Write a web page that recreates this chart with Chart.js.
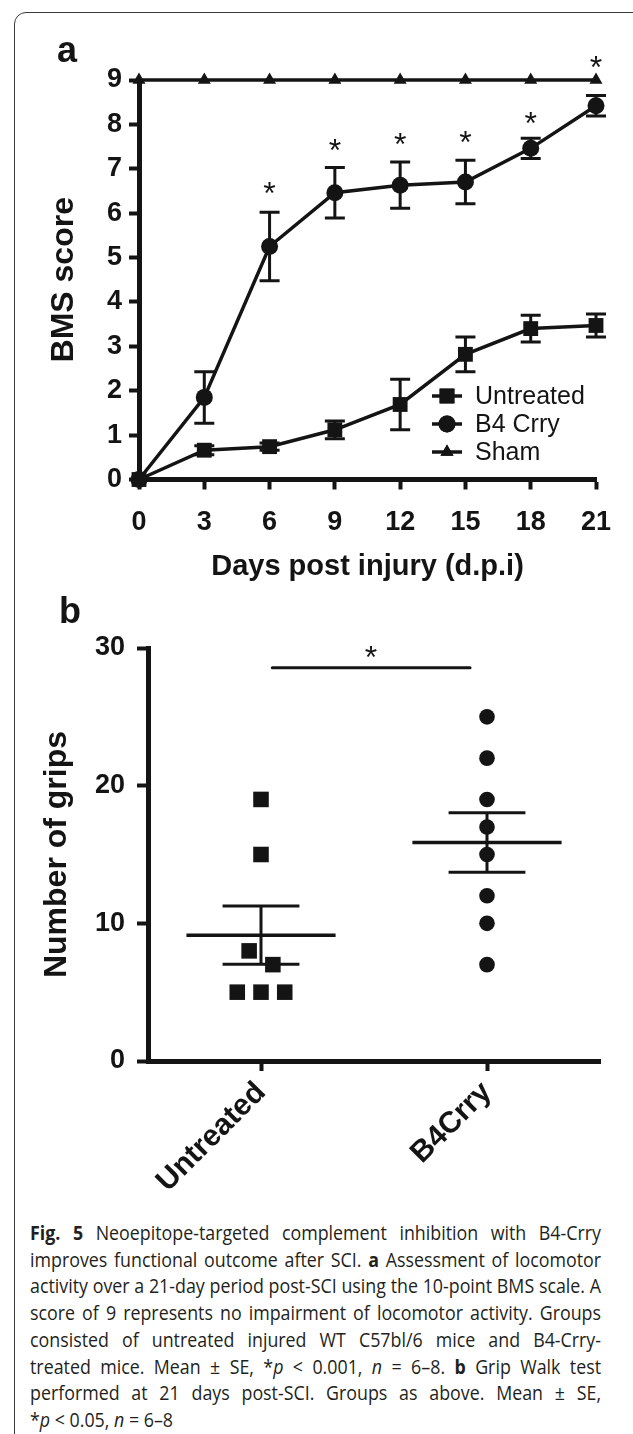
<!DOCTYPE html>
<html lang="en">
<head>
<meta charset="UTF-8">
<title>Fig. 5</title>
<script src="https://cdn.jsdelivr.net/npm/chart.js"></script>
<style>
  body { margin: 0; background: #fff; width: 633px; height: 1434px; overflow: hidden; position: relative; }
  .frame { position: absolute; left: 14px; top: 12px; width: 700px; height: 1500px; border: 1.5px solid #3a3a3a; border-radius: 12px; }
  #panelA { position: absolute; left: 0; top: 0; }
  #panelB { position: absolute; left: 0; top: 590px; }
  .caption { position: absolute; left: 30px; top: 1220px; font-family: 'Open Sans', sans-serif; font-size: 20px; line-height: 26.7px; color: #231f20; transform-origin: 0 0; }
  .caption div { text-align: justify; text-align-last: justify; }
  .caption div.last { text-align-last: left; }
</style>
</head>
<body>
  <div class="frame"></div>
  <canvas id="panelA" width="633" height="590"></canvas>
  <canvas id="panelB" width="633" height="625"></canvas>
  <div class="caption" id="caption">
    <div><b>Fig. 5</b> Neoepitope-targeted complement inhibition with B4-Crry</div>
    <div>improves functional outcome after SCI. <b>a</b> Assessment of locomotor</div>
    <div>activity over a 21-day period post-SCI using the 10-point BMS scale. A</div>
    <div>score of 9 represents no impairment of locomotor activity. Groups</div>
    <div>consisted of untreated injured WT C57bl/6 mice and B4-Crry-</div>
    <div>treated mice. Mean ± SE, *<i>p</i> &lt; 0.001, <i>n</i> = 6–8. <b>b</b> Grip Walk test</div>
    <div>performed at 21 days post-SCI. Groups as above. Mean ± SE,</div>
    <div class="last">*<i>p</i> &lt; 0.05, <i>n</i> = 6–8</div>
  </div>

<script>
  // ---- panel a : BMS score over time ----
  var days = [0, 3, 6, 9, 12, 15, 18, 21];
  var untreatedBMS = [0, 0.66, 0.74, 1.12, 1.69, 2.82, 3.40, 3.47];
  var untreatedSE  = [0, 0.10, 0.08, 0.20, 0.57, 0.39, 0.30, 0.26];
  var b4CrryBMS    = [0, 1.85, 5.25, 6.46, 6.63, 6.70, 7.46, 8.42];
  var b4CrrySE     = [0, 0.58, 0.77, 0.57, 0.52, 0.49, 0.23, 0.23];
  var shamBMS      = [9, 9, 9, 9, 9, 9, 9, 9];
  var seriesNames  = ['Untreated', 'B4 Crry', 'Sham'];
  // asterisks (day, height on BMS scale)
  var starDays = [6, 9, 12, 15, 18, 21];
  var starBMS  = [6.62, 7.6, 7.72, 7.76, 8.2, 9.45];

  // ---- panel b : grip walk ----
  var groups = ['Untreated', 'B4Crry'];
  var untreatedGrips = [19, 15, 8, 7, 5, 5, 5];
  var b4CrryGrips    = [25, 22, 19, 17, 15, 12, 10, 7];

  var black = '#141414';
  var ff = "'Liberation Sans', Arial, sans-serif";

  function xy(xs, ys) {
    return xs.map(function (x, i) { return { x: x, y: ys[i] }; });
  }

  // spread points that sit on top of each other (like a dot plot)
  function swarm(values, gi) {
    var sorted = values.map(function (v, i) { return { v: v, i: i }; }).sort(function (a, b) { return b.v - a.v; });
    var out = [];
    var group = [];
    function flush() {
      group.forEach(function (g, k) {
        out[g.i] = { x: gi + (k - (group.length - 1) / 2) * 0.105, y: g.v };
      });
      group = [];
    }
    sorted.forEach(function (p) {
      if (group.length && group[group.length - 1].v - p.v > 1.2) flush();
      group.push(p);
    });
    flush();
    return out;
  }

  function mean(a) { return a.reduce(function (s, v) { return s + v; }, 0) / a.length; }
  function stdErr(a) {
    var m = mean(a);
    var ss = a.reduce(function (s, v) { return s + (v - m) * (v - m); }, 0);
    return Math.sqrt(ss / (a.length - 1)) / Math.sqrt(a.length);
  }

  function marker(ctx, style, r, x, y) {
    if (Chart.helpers && Chart.helpers.drawPoint) {
      Chart.helpers.drawPoint(ctx, { pointStyle: style, radius: r, rotation: 0, borderWidth: 0 }, x, y);
      ctx.fill();
    }
  }

  // error bars for panel a
  var errorBars = {
    id: 'errorBars',
    afterDatasetsDraw: function (chart, args, opts) {
      var ctx = chart.ctx, xs = chart.scales.x, ys = chart.scales.y;
      ctx.save();
      ctx.strokeStyle = black;
      ctx.lineWidth = opts.width;
      chart.data.datasets.forEach(function (ds) {
        if (!ds.se) return;
        ds.data.forEach(function (p, i) {
          var e = ds.se[i];
          if (!e) return;
          var px = xs.getPixelForValue(p.x);
          var top = ys.getPixelForValue(p.y + e), bot = ys.getPixelForValue(p.y - e);
          ctx.beginPath();
          ctx.moveTo(px, top); ctx.lineTo(px, bot);
          ctx.moveTo(px - opts.cap, top); ctx.lineTo(px + opts.cap, top);
          ctx.moveTo(px - opts.cap, bot); ctx.lineTo(px + opts.cap, bot);
          ctx.stroke();
        });
      });
      ctx.restore();
    }
  };

  var starsA = {
    id: 'starsA',
    afterDraw: function (chart) {
      var ctx = chart.ctx, xs = chart.scales.x, ys = chart.scales.y;
      ctx.save();
      ctx.fillStyle = black;
      ctx.font = '32px ' + ff;
      ctx.textAlign = 'center';
      ctx.textBaseline = 'alphabetic';
      starDays.forEach(function (d, i) {
        ctx.fillText('*', xs.getPixelForValue(d), ys.getPixelForValue(starBMS[i]) + 0.575 * 32);
      });
      ctx.restore();
    }
  };

  var panelLetter = {
    id: 'panelLetter',
    afterDraw: function (chart, args, opts) {
      var ctx = chart.ctx;
      ctx.save();
      ctx.fillStyle = black;
      ctx.font = 'bold 36px ' + ff;
      ctx.textAlign = 'left';
      ctx.textBaseline = 'alphabetic';
      ctx.fillText(opts.text, opts.x, opts.y);
      ctx.restore();
    }
  };

  var insideLegend = {
    id: 'insideLegend',
    afterDraw: function (chart, args, opts) {
      var ctx = chart.ctx;
      ctx.save();
      chart.data.datasets.forEach(function (ds, i) {
        var y = opts.y + i * opts.row;
        ctx.strokeStyle = black;
        ctx.fillStyle = black;
        ctx.lineWidth = 3.5;
        ctx.beginPath();
        ctx.moveTo(opts.x, y); ctx.lineTo(opts.x + opts.len, y);
        ctx.stroke();
        marker(ctx, ds.pointStyle, ds.pointRadius, opts.x + opts.len / 2, y);
        ctx.font = '25px ' + ff;
        ctx.textAlign = 'left';
        ctx.textBaseline = 'middle';
        ctx.fillText(ds.label, opts.x + opts.len + 13, y + 1);
      });
      ctx.restore();
    }
  };

  function lineSet(label, ys, se, style, radius) {
    return {
      label: label, data: xy(days, ys), se: se,
      borderColor: black, borderWidth: 3.5, backgroundColor: black,
      pointStyle: style, pointRadius: radius, pointHoverRadius: radius,
      pointBackgroundColor: black, pointBorderColor: black, pointBorderWidth: 0,
      clip: false, tension: 0
    };
  }

  new Chart(document.getElementById('panelA'), {
    type: 'line',
    data: {
      datasets: [
        lineSet(seriesNames[0], untreatedBMS, untreatedSE, 'rect', 10.5),
        lineSet(seriesNames[1], b4CrryBMS, b4CrrySE, 'circle', 8.5),
        lineSet(seriesNames[2], shamBMS, null, 'triangle', 7.5)
      ]
    },
    options: {
      responsive: false,
      animation: false,
      devicePixelRatio: 1,
      layout: { padding: { top: 80, right: 37, bottom: 0, left: 0 } },
      plugins: {
        legend: { display: false },
        tooltip: { enabled: false },
        errorBars: { width: 3, cap: 10 },
        panelLetter: { text: 'a', x: 57, y: 62 },
        insideLegend: { x: 432, y: 396, row: 28, len: 30 }
      },
      scales: {
        x: {
          type: 'linear', min: 0, max: 21,
          afterFit: function (s) { s.height = 110.5; },
          border: { display: true, color: black, width: 5 },
          grid: { drawOnChartArea: false, drawTicks: true, tickLength: 10, tickWidth: 4, tickColor: black },
          ticks: { stepSize: 3, padding: 17, color: black, font: { family: ff, size: 27, weight: 'bold' }, maxRotation: 0 },
          title: { display: true, text: 'Days post injury (d.p.i)', color: black, font: { family: ff, size: 29, weight: 'bold' }, padding: { top: 0, bottom: 5.6 } }
        },
        y: {
          min: 0, max: 9,
          afterFit: function (s) { s.width = 139; },
          border: { display: true, color: black, width: 5 },
          grid: { drawOnChartArea: false, drawTicks: true, tickLength: 10, tickWidth: 4, tickColor: black },
          ticks: { stepSize: 1, padding: 7, color: black, font: { family: ff, size: 27, weight: 'bold' } },
          title: { display: true, text: 'BMS score', color: black, font: { family: ff, size: 32, weight: 'bold' }, padding: { top: 45, bottom: 0 } }
        }
      }
    },
    plugins: [errorBars, starsA, panelLetter, insideLegend]
  });

  // mean ± SE bars, significance bar for panel b
  var dotSummary = {
    id: 'dotSummary',
    afterDatasetsDraw: function (chart) {
      var ctx = chart.ctx, xs = chart.scales.x, ys = chart.scales.y;
      ctx.save();
      ctx.strokeStyle = black;
      chart.data.datasets.forEach(function (ds, gi) {
        var m = mean(ds.raw), se = stdErr(ds.raw);
        var ym = ys.getPixelForValue(m), yt = ys.getPixelForValue(m + se), yb = ys.getPixelForValue(m - se);
        ctx.lineWidth = 3.5;
        ctx.beginPath();
        ctx.moveTo(xs.getPixelForValue(gi - 0.33), ym); ctx.lineTo(xs.getPixelForValue(gi + 0.33), ym);
        ctx.stroke();
        ctx.lineWidth = 3;
        ctx.beginPath();
        ctx.moveTo(xs.getPixelForValue(gi), yt); ctx.lineTo(xs.getPixelForValue(gi), yb);
        ctx.moveTo(xs.getPixelForValue(gi - 0.17), yt); ctx.lineTo(xs.getPixelForValue(gi + 0.17), yt);
        ctx.moveTo(xs.getPixelForValue(gi - 0.17), yb); ctx.lineTo(xs.getPixelForValue(gi + 0.17), yb);
        ctx.stroke();
      });
      // significance bar
      ctx.lineWidth = 3;
      ctx.lineCap = 'round';
      ctx.beginPath();
      ctx.moveTo(xs.getPixelForValue(0.05), ys.getPixelForValue(28.56));
      ctx.lineTo(xs.getPixelForValue(0.925), ys.getPixelForValue(28.56));
      ctx.stroke();
      ctx.fillStyle = black;
      ctx.font = '32px ' + ff;
      ctx.textAlign = 'center';
      ctx.fillText('*', xs.getPixelForValue(0.487), ys.getPixelForValue(29.85) + 0.575 * 32);
      ctx.restore();
    }
  };

  new Chart(document.getElementById('panelB'), {
    type: 'scatter',
    data: {
      datasets: [
        { label: groups[0], raw: untreatedGrips, data: swarm(untreatedGrips, 0), pointStyle: 'rect', pointRadius: 11, pointHoverRadius: 11,
          backgroundColor: black, borderWidth: 0, clip: false },
        { label: groups[1], raw: b4CrryGrips, data: swarm(b4CrryGrips, 1), pointStyle: 'circle', pointRadius: 7.8, pointHoverRadius: 7.8,
          backgroundColor: black, borderWidth: 0, clip: false }
      ]
    },
    options: {
      responsive: false,
      animation: false,
      devicePixelRatio: 1,
      layout: { padding: { top: 58, right: 33, bottom: 0, left: 0 } },
      plugins: {
        legend: { display: false },
        tooltip: { enabled: false },
        panelLetter: { text: 'b', x: 59, y: 33 }
      },
      scales: {
        x: {
          type: 'linear', min: -0.5, max: 1.5,
          afterFit: function (s) { s.height = 154; },
          afterBuildTicks: function (s) { s.ticks = groups.map(function (g, i) { return { value: i }; }); },
          border: { display: true, color: black, width: 5 },
          grid: { drawOnChartArea: false, drawTicks: true, tickLength: 10, tickWidth: 4, tickColor: black },
          ticks: {
            autoSkip: false, minRotation: 45, maxRotation: 45, padding: 4, color: black,
            font: { family: ff, size: 30, weight: 'bold' },
            callback: function (v, i) { return groups[i]; }
          }
        },
        y: {
          min: 0, max: 30,
          afterFit: function (s) { s.width = 148; },
          border: { display: true, color: black, width: 5 },
          grid: { drawOnChartArea: false, drawTicks: true, tickLength: 11, tickWidth: 4, tickColor: black },
          ticks: { stepSize: 10, padding: 12, color: black, font: { family: ff, size: 27, weight: 'bold' } },
          title: { display: true, text: 'Number of grips', color: black, font: { family: ff, size: 32, weight: 'bold' }, padding: { top: 38, bottom: 0 } }
        }
      }
    },
    plugins: [dotSummary, panelLetter]
  });

  // caption: keep the original line breaks, squeeze to the column width
  var cap = document.getElementById('caption');
  var lines = cap.querySelectorAll('div');
  var maxW = 0;
  lines.forEach(function (d) {
    d.style.width = 'max-content';
    maxW = Math.max(maxW, d.getBoundingClientRect().width);
  });
  lines.forEach(function (d) { d.style.width = ''; });
  var w = Math.ceil(maxW) + 1;
  cap.style.width = w + 'px';
  cap.style.transform = 'scaleX(' + (571 / w) + ')';
</script>
</body>
</html>
